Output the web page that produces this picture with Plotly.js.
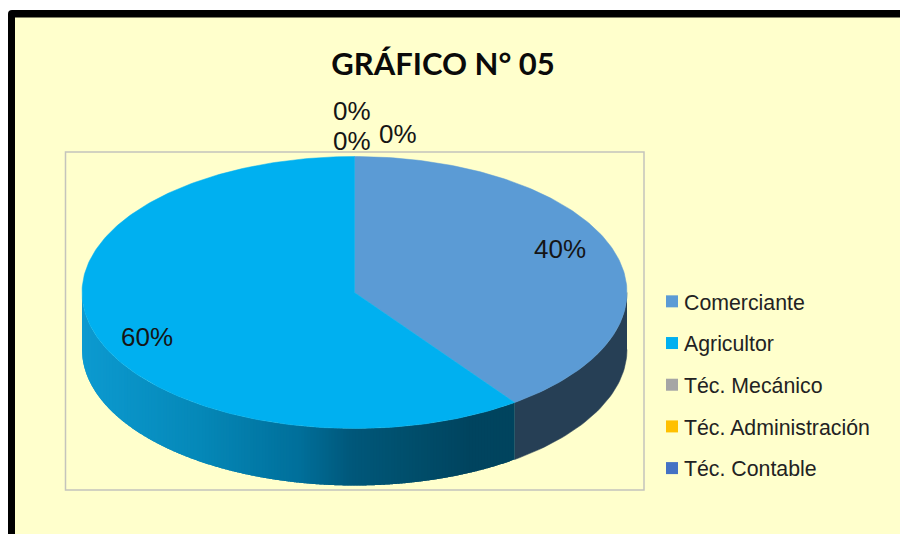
<!DOCTYPE html>
<html><head><meta charset="utf-8">
<script src="https://cdn.plot.ly/plotly-3.0.1.min.js"></script>
<style>html,body{margin:0;padding:0;background:#fff}#c{width:900px;height:534px}</style>
</head><body><div id="c"></div>
<script>
const categories = ['Comerciante','Agricultor','Téc. Mecánico','Téc. Administración','Téc. Contable'];
const shares = [40, 60, 0, 0, 0];
const faceColors = ['#5B9BD5','#00B0F0','#A5A5A5','#FFC000','#4472C4'];
const chartTitle = 'GRÁFICO N° 05';

// pie geometry (projected ellipse, px-scale axes)
const cx = 354.5, cy = 292.5, rx = 272.5, ry = 136, depth = 57;
const labelX = [560, 147, 398, 352, 352];
const labelY = [249, 337, 134, 141, 111];
// gradient of the curved side of the large slice, by horizontal position
const sideStops = [[82,[12,154,208]],[200,[5,136,184]],[300,[0,111,154]],[350,[0,88,123]],[400,[0,80,110]],[470,[0,68,95]],[520,[0,68,94]]];
const rightSide = '#263F55';

function sideColor(x){
  for(let i=1;i<sideStops.length;i++){
    if(x<=sideStops[i][0]){
      const a=sideStops[i-1],b=sideStops[i],t=Math.max(0,(x-a[0])/(b[0]-a[0]));
      return 'rgb('+a[1].map((v,k)=>Math.round(v+(b[1][k]-v)*t)).join(',')+')';
    }
  }
  return 'rgb(0,68,94)';
}
const total = shares.reduce((a,b)=>a+b,0);
const px = a => cx + rx*Math.sin(a);
const py = a => cy - ry*Math.cos(a);
const ang = s => s/total*2*Math.PI;
const traces = [];
function poly(xs,ys,color,w){
  traces.push({type:'scatter',mode:w?'lines':'none',x:xs,y:ys,fill:'toself',fillcolor:color,
    line:{color:color,width:w||0},showlegend:false,hoverinfo:'skip'});
}
// side wall of first slice (visible part)
const a1 = ang(shares[0]);
(function(){
  const xs=[],ys=[];
  for(let k=0;k<=40;k++){const a=Math.PI/2+(a1-Math.PI/2)*k/40;xs.push(px(a));ys.push(py(a));}
  for(let k=40;k>=0;k--){const a=Math.PI/2+(a1-Math.PI/2)*k/40;xs.push(px(a));ys.push(py(a)+depth);}
  poly(xs,ys,rightSide,0.5);
})();
// side wall of second slice: overlapping strips painted right to left
(function(){
  let x = px(a1);
  const left = cx-rx, step=3, overlap=3;
  const th = v => Math.PI - Math.asin(Math.max(-1,Math.min(1,(v-cx)/rx)));
  while(x>left){
    const x0=Math.max(left,x-step-overlap), xs=[],ys=[];
    for(let i=0;i<=8;i++){const v=x+(x0-x)*i/8,a=th(v);xs.push(px(a));ys.push(py(a));}
    for(let i=8;i>=0;i--){const v=x+(x0-x)*i/8,a=th(v);xs.push(px(a));ys.push(py(a)+depth);}
    poly(xs,ys,sideColor(x-step/2));
    x-=step;
  }
})();
// top faces
let cum=0;
shares.forEach((s,i)=>{
  const st=ang(cum), en=ang(cum+s); cum+=s;
  if(s<=0) return;
  const xs=[cx],ys=[cy],n=Math.ceil(s*4);
  for(let k=0;k<=n;k++){const a=st+(en-st)*k/n;xs.push(px(a));ys.push(py(a));}
  xs.push(cx);ys.push(cy);
  poly(xs,ys,faceColors[i],0.5);
});
// legend entries
categories.forEach((c,i)=>{
  traces.push({type:'scatter',mode:'markers',x:[-50],y:[-50],name:c,legendgroup:'g'+i,
    marker:{symbol:'square',size:12,color:faceColors[i]},showlegend:true,hoverinfo:'skip'});
});
const annotations = shares.map((s,i)=>({
  x:labelX[i],y:labelY[i],xref:'x',yref:'y',text:Math.round(s/total*100)+'%',showarrow:false,
  font:{family:'Liberation Sans, Arial, sans-serif',size:26,color:'#151515'},xanchor:'center',yanchor:'middle'
}));
const layout = {
  width:900,height:534,margin:{l:0,r:0,t:0,b:0},paper_bgcolor:'#fff',plot_bgcolor:'rgba(0,0,0,0)',
  xaxis:{range:[0,900],visible:false,fixedrange:true},
  yaxis:{range:[534,0],visible:false,fixedrange:true},
  title:{text:'<b>'+chartTitle+'</b>',x:443/900,xanchor:'center',y:1-64/534,yanchor:'middle',
    font:{family:'Lato, sans-serif',size:31,color:'#0a0a0a'}},
  shapes:[
    {type:'path',xref:'x',yref:'y',path:'M8,14 Q8,10 12,10 L905,10 L905,540 L8,540 Z',fillcolor:'#000',line:{width:0},layer:'below'},
    {type:'rect',xref:'x',yref:'y',x0:15,x1:905,y0:17.5,y1:540,fillcolor:'#FFFFCC',line:{width:0},layer:'below'},
    {type:'rect',xref:'x',yref:'y',x0:65.5,x1:644,y0:152,y1:490,fillcolor:'rgba(0,0,0,0)',line:{color:'#C4C4BC',width:1.5},layer:'below'}
  ],
  annotations:annotations,
  showlegend:true,
  legend:{x:653/900,xanchor:'left',y:1-281/534,yanchor:'top',bgcolor:'rgba(0,0,0,0)',borderwidth:0,
    font:{family:'Liberation Sans, Arial, sans-serif',size:21.3,color:'#222'},
    tracegroupgap:11,indentation:-9,itemclick:false,itemdoubleclick:false}
};
Plotly.newPlot('c',traces,layout,{displayModeBar:false,staticPlot:true}).then(gd=>{
  // bring each legend swatch close to its label, as in the original chart
  gd.querySelectorAll('.legend .legendsymbols').forEach(n=>n.setAttribute('transform','translate(8,0)'));
});
</script></body></html>
